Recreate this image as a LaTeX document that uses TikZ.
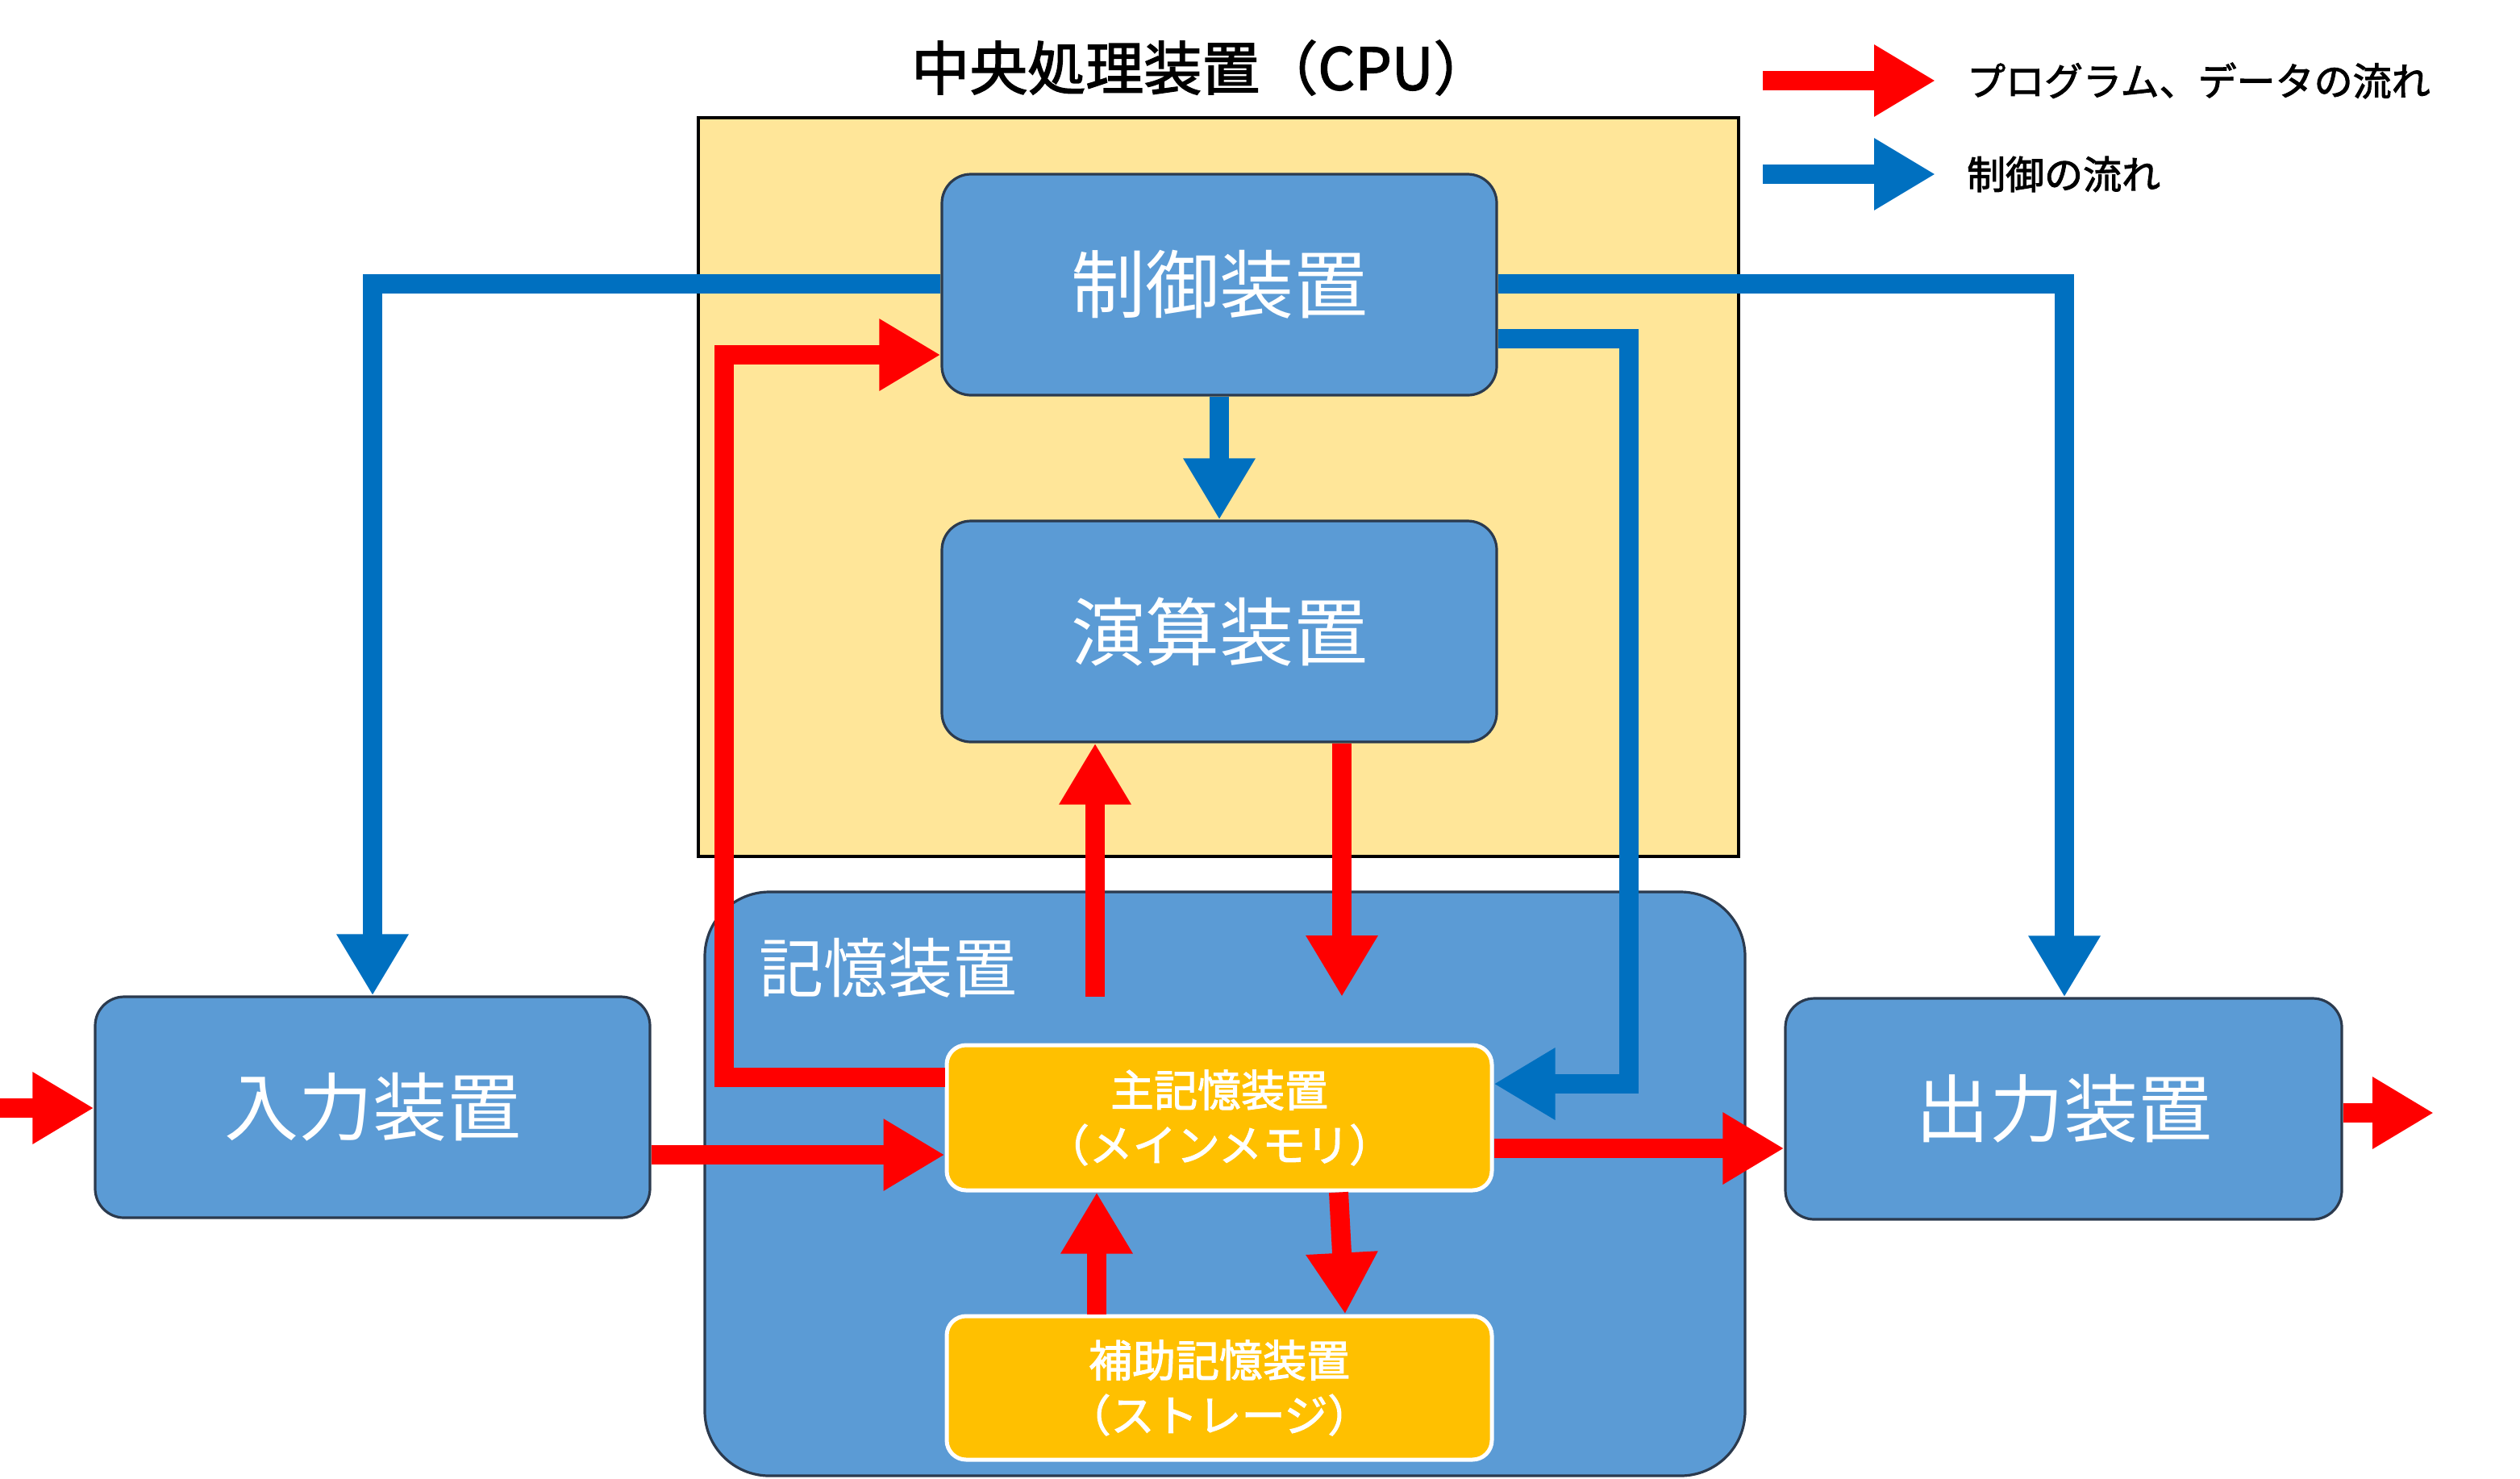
\documentclass[tikz,border=0pt]{standalone}
\usepackage{fontspec}
\setmainfont{Noto Sans CJK JP}
\newfontfamily\jpb{Noto Sans CJK JP}[FakeBold=2]
\usetikzlibrary{arrows.meta}
\definecolor{cpuy}{HTML}{FFE699}
\definecolor{boxb}{HTML}{5B9BD5}
\definecolor{edgeb}{HTML}{2B3A4E}
\definecolor{memy}{HTML}{FFC000}
\definecolor{flowb}{HTML}{0070C0}
\definecolor{flowr}{HTML}{FF0000}
\tikzset{
  unit/.style={draw=edgeb,line width=1.6pt,fill=boxb,rounded corners=18pt,text=white,font=\fontsize{46}{50}\selectfont,inner sep=0pt},
  mem/.style={draw=white,line width=2.5pt,fill=memy,rounded corners=12pt,text=white,font=\jpb\fontsize{27}{34}\selectfont,align=center,inner sep=0pt},
  ctl/.style={draw=flowb,line width=12pt,-{Triangle[length=38pt,width=42pt]}},
  dat/.style={draw=flowr,line width=12pt,-{Triangle[length=38pt,width=42pt]}},
}
\begin{document}
\begin{tikzpicture}[x=1pt,y=-1pt]
\useasboundingbox (0,0) rectangle (1562.5,916.5);
% CPU
\node[draw=black,line width=1.6pt,fill=cpuy,minimum width=645pt,minimum height=458pt,inner sep=0pt] (cpu) at (755.5,302) {};
\node[font=\jpb\fontsize{36}{40}\selectfont] (title) at (745,42) {中央処理装置（CPU）};
% memory block
\node[draw=edgeb,line width=1.6pt,fill=boxb,rounded corners=40pt,minimum width=645pt,minimum height=362pt,inner sep=0pt] (stor) at (759.5,734) {};
\node[text=white,font=\fontsize{40}{44}\selectfont,anchor=west] (storl) at (467,600) {記憶装置};
% units
\node[unit,minimum width=344pt,minimum height=137pt] (ctrl) at (756,176.5) {制御装置};
\node[unit,minimum width=344pt,minimum height=137pt] (alu) at (756,391.5) {演算装置};
\node[unit,minimum width=344pt,minimum height=137pt] (in) at (231,686.5) {入力装置};
\node[unit,minimum width=345pt,minimum height=137pt] (out) at (1279.5,687.5) {出力装置};
\node[mem,minimum width=338pt,minimum height=90pt] (main) at (756,693) {主記憶装置\\（メインメモリ）};
\node[mem,minimum width=338pt,minimum height=89pt] (sub) at (756,860.5) {補助記憶装置\\（ストレージ）};
% legend
\coordinate (lr1) at (1093,50); \coordinate (lr2) at (1200,50);
\coordinate (lb1) at (1093,108); \coordinate (lb2) at (1200,108);
\draw[dat] (lr1) -- (lr2);
\draw[ctl] (lb1) -- (lb2);
\node[anchor=west,font=\jpb\fontsize{24}{28}\selectfont] (leg1) at (1216,50) {プログラム、データの流れ};
\node[anchor=west,font=\jpb\fontsize{24}{28}\selectfont] (leg2) at (1216,108) {制御の流れ};
% control flows
\draw[ctl] (ctrl.west |- 0,176) -| (in.north -| 231,0);
\draw[ctl] (ctrl.east |- 0,176) -| (out.north -| 1280,0);
\draw[ctl] (ctrl.east |- 0,210) -| (1010,672) -- (main.east |- 0,672);
\draw[ctl] (ctrl.south) -- (alu.north);
% data flows
\draw[dat] (main.west |- 0,668) -| (449,220) -- (ctrl.west |- 0,220);
\coordinate (a1) at (679,618);
\draw[dat] (a1) -- (alu.south -| 679,0);
\coordinate (a2) at (832,618);
\draw[dat] (alu.south -| 832,0) -- (a2);
\draw[dat] (in.east |- 0,716) -- (main.west |- 0,716);
\draw[dat] (main.east |- 0,712) -- (out.west |- 0,712);
\draw[dat] (main.south -| 830,0) -- (sub.north -| 834,0);
\draw[dat] (sub.north -| 680,0) -- (main.south -| 680,0);
\coordinate (ins) at (0,687);
\draw[dat] (ins) -- (in.west |- 0,687);
\coordinate (oute) at (1509,690);
\draw[dat] (out.east |- 0,690) -- (oute);
\end{tikzpicture}
\end{document}
